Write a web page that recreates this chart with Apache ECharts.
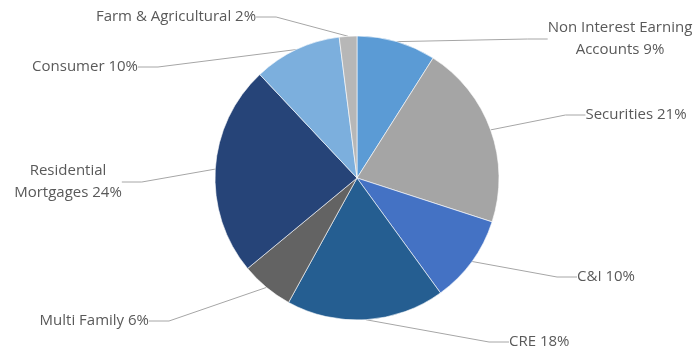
<!DOCTYPE html>
<html>
<head>
<meta charset="utf-8">
<script src="https://cdn.jsdelivr.net/npm/echarts@6/dist/echarts.min.js"></script>
<style>
  html,body{margin:0;padding:0;background:#fff;}
  #chart{width:695px;height:350px;}
</style>
</head>
<body>
<div id="chart"></div>
<script>
// categories and shares (%), clockwise from 12 o'clock
var categories=['Non Interest Earning\nAccounts','Securities','C&I','CRE','Multi Family','Residential\nMortgages','Consumer','Farm & Agricultural'];
var shares=[9,21,10,18,6,24,10,2];
var colors=['#5b9bd5','#a5a5a5','#4472c4','#255e91','#636363','#264478','#7cafdd','#b7b7b7'];

// where each label sits (text anchor), same order as categories
var labelPos=[
  {x:620,y:39,align:'center'},
  {x:636,y:115,align:'center'},
  {x:577,y:277,align:'left'},
  {x:509,y:342,align:'left'},
  {x:149,y:321,align:'right'},
  {x:68,y:182,align:'center'},
  {x:138,y:67,align:'right'},
  {x:176,y:17,align:'center'}
];

var myChart=echarts.init(document.getElementById('chart'));

var pieData=categories.map(function(name,i){
  return {name:name,value:shares[i],itemStyle:{color:colors[i]}};
});

var option={
  animation:false,
  series:[{
    type:'pie',
    center:[357,178],
    radius:142,
    startAngle:90,
    clockwise:true,
    data:pieData,
    itemStyle:{borderColor:'#ffffff',borderWidth:0.6},
    label:{
      show:true,
      formatter:function(p){ return p.name+' '+p.value+'%'; },
      color:'#595959',
      fontFamily:'Open Sans',
      fontSize:15,
      lineHeight:22
    },
    labelLine:{
      show:true,
      length:20,
      length2:20,
      lineStyle:{color:'#a6a6a6',width:1}
    },
    labelLayout:function(params){
      var p=labelPos[params.dataIndex];
      return {x:p.x,y:p.y,align:p.align,verticalAlign:'middle'};
    }
  }]
};
myChart.setOption(option);
</script>
</body>
</html>
